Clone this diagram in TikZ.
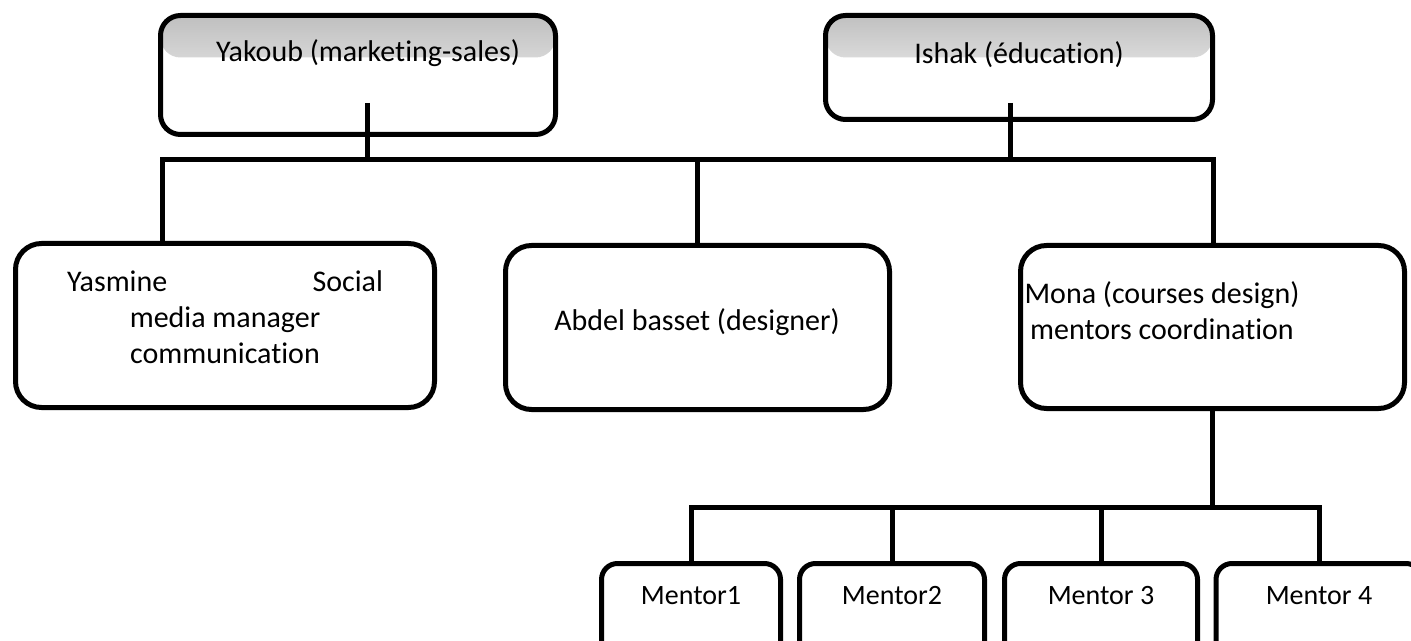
\documentclass[tikz,border=0pt]{standalone}
\usepackage{fontspec}
\setmainfont{Carlito}[Ligatures=NoCommon]
\tikzset{
	box/.style={draw,line width=2.5pt,rounded corners=13pt,fill=white,inner sep=0pt},
	topbox/.style={box,rounded corners=10pt,path picture={\shade[top color=black!28,bottom color=white] ([yshift=7pt]path picture bounding box.north west) rectangle ([yshift=-21pt]path picture bounding box.north east);}},
	mentorbox/.style={box,rounded corners=8pt,minimum height=62pt},
	txt/.style={font=\fontsize{15pt}{18pt}\selectfont,align=center,inner sep=0pt},
	mtxt/.style={txt,font=\fontsize{14pt}{18pt}\selectfont},
	conn/.style={line width=2.5pt},
}
\begin{document}
\begin{tikzpicture}[x=0.5pt,y=-0.5pt]
		\useasboundingbox (0,0) rectangle (1411,641);
		\clip (0,0) rectangle (1411,641);
		% heads
		\node[topbox,minimum width=197.5pt,minimum height=59.5pt] (yak) at (358,75){};
		\node[txt] (yaktxt) at (368,53){Yakoub (marketing-sales)};
		\node[topbox,minimum width=193.5pt,minimum height=52pt] (ish) at (1019,67.5){};
		\node[txt] (ishtxt) at (1019,55){Ishak (éducation)};
		% team
		\node[box,minimum width=209.5pt,minimum height=82pt] (yas) at (225,325.5){};
		\node[txt] (yastxt) at (225,317){\makebox[158pt]{Yasmine\hfill Social}\\media manager\\communication};
		\node[box,minimum width=192pt,minimum height=82pt] (abd) at (697.5,327.5){};
		\node[txt] (abdtxt) at (697,322){Abdel basset (designer)};
		\node[box,minimum width=192pt,minimum height=81.5pt] (mona) at (1212.5,327){};
		\node[txt] (monatxt) at (1162,311){Mona (courses design)\\mentors coordination};
		% mentors
		\foreach \n/\x/\w/\lbl in {1/691/89.5/Mentor1,2/892/92.5/Mentor2,3/1101/96.5/Mentor 3,4/1319/103/Mentor 4}{
			\node[mentorbox,minimum width=\w pt] (m\n) at (\x,625.5){};
			\node[mtxt] (t\n) at (\x,596){\lbl};
		}
		% links
		\coordinate (yakend) at (367,103);
		\coordinate (ishend) at (1010,103);
		\coordinate (busL) at (162,160);
		\coordinate (busR) at (1213,160);
		\coordinate (mbus) at (0,507);
		\draw[conn] (yakend)--(yakend |- busL);
		\draw[conn] (ishend)--(ishend |- busL);
		\draw[conn] (busL |- yas.north)--(busL)--(busR)--(busR |- mona.north);
		\draw[conn] (abd.north |- busL)--(abd.north);
		\draw[conn] (mona.south)--(mona.south |- mbus);
		\draw[conn] (m1.north)--(m1.north |- mbus)--(m4.north |- mbus)--(m4.north);
		\foreach \n in {2,3} \draw[conn] (m\n.north |- mbus)--(m\n.north);
	\end{tikzpicture}
\end{document}
